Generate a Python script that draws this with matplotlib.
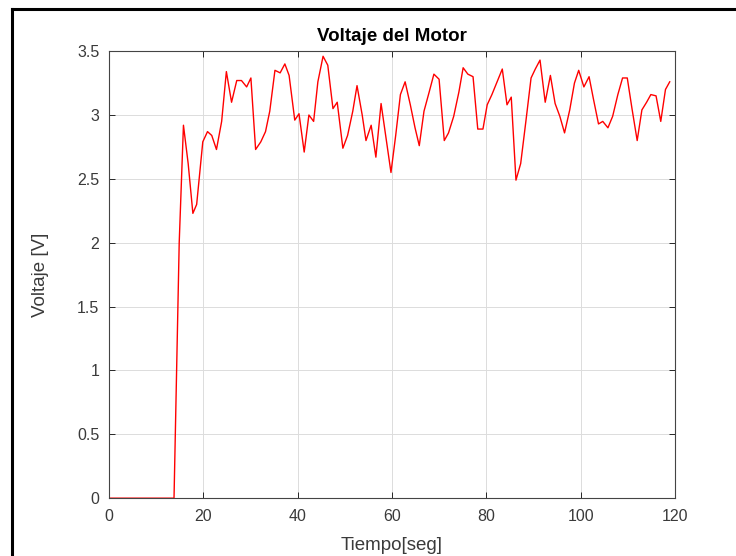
import matplotlib
matplotlib.use('Agg')
import matplotlib.pyplot as plt
from matplotlib.lines import Line2D

plt.rcParams['font.family'] = ['Liberation Sans', 'DejaVu Sans']

# tiempo [s] y voltaje [V]
tiempo = [0, 13.8, 14.9, 15.8, 16.8, 17.8, 18.6, 19.9, 20.9, 21.8,
          22.8, 23.9, 24.9, 26.0, 27.1, 28.1, 29.2, 30.1, 31.1, 32.2,
          33.2, 34.1, 35.2, 36.3, 37.3, 38.2, 39.4, 40.3, 41.4, 42.4,
          43.4, 44.3, 45.4, 46.4, 47.5, 48.4, 49.6, 50.6, 51.7, 52.6,
          53.7, 54.5, 55.6, 56.6, 57.7, 58.75, 59.8, 60.8, 61.8, 62.8,
          63.9, 64.9, 65.8, 66.8, 67.9, 68.9, 70.0, 71.1, 72.0, 73.1,
          74.2, 75.1, 76.1, 77.2, 78.2, 79.3, 80.2, 81.2, 82.3, 83.4,
          84.4, 85.3, 86.3, 87.3, 88.4, 89.5, 90.4, 91.4, 92.5, 93.6,
          94.6, 95.6, 96.6, 97.7, 98.7, 99.6, 100.7, 101.8, 102.7, 103.8,
          104.7, 105.8, 106.8, 107.9, 108.9, 109.9, 110.9, 112.0, 113.0, 114.0,
          114.9, 116.0, 117.0, 118.0, 118.9]
voltaje = [0, 0, 2.0, 2.92, 2.62, 2.23, 2.30, 2.79, 2.87, 2.84,
           2.73, 2.95, 3.34, 3.10, 3.27, 3.27, 3.22, 3.29, 2.73, 2.79,
           2.87, 3.03, 3.35, 3.33, 3.40, 3.31, 2.96, 3.01, 2.71, 3.0,
           2.95, 3.26, 3.46, 3.39, 3.05, 3.10, 2.74, 2.84, 3.03, 3.23,
           3.0, 2.80, 2.92, 2.67, 3.09, 2.82, 2.55, 2.84, 3.16, 3.26,
           3.08, 2.90, 2.76, 3.03, 3.18, 3.32, 3.28, 2.80, 2.86, 2.99,
           3.18, 3.37, 3.32, 3.30, 2.89, 2.89, 3.08, 3.16, 3.26, 3.36,
           3.08, 3.14, 2.49, 2.62, 2.95, 3.29, 3.36, 3.43, 3.10, 3.31,
           3.09, 2.99, 2.86, 3.04, 3.25, 3.35, 3.22, 3.30, 3.13, 2.93,
           2.95, 2.90, 2.99, 3.16, 3.29, 3.29, 3.05, 2.80, 3.04, 3.10,
           3.16, 3.15, 2.95, 3.20, 3.26]

xticks = [0, 20, 40, 60, 80, 100, 120]
yticks = [0, 0.5, 1, 1.5, 2, 2.5, 3, 3.5]
ytick_labels = ['0', '0.5', '1', '1.5', '2', '2.5', '3', '3.5']

fig = plt.figure(figsize=(7.36, 5.56), dpi=100)
ax = fig.add_axes([0.148, 0.104, 0.769, 0.804])

ax.plot(tiempo, voltaje, color='red', lw=1.0)

ax.set_xlim(0, 120)
ax.set_ylim(0, 3.5)
ax.set_xticks(xticks)
ax.set_yticks(yticks)
ax.set_yticklabels(ytick_labels)
ax.grid(True, color='#dcdcdc', lw=0.7)
ax.set_axisbelow(True)
ax.tick_params(direction='in', length=4, width=0.7, color='#262626',
               labelcolor='#3a3a3a', labelsize=11.5, top=True, right=True)
ax.tick_params(axis='x', pad=8)
ax.tick_params(axis='y', pad=7)
for s in ax.spines.values():
    s.set_color('#444444')
    s.set_linewidth(0.8)

ax.set_title('Voltaje del Motor', fontsize=13.5, fontweight='bold', pad=7)
ax.set_xlabel('Tiempo[seg]', fontsize=13.5, color='#3a3a3a', labelpad=9)
ax.set_ylabel('Voltaje [V]', fontsize=13.5, color='#3a3a3a', labelpad=20)

# marco negro de la captura (izquierda y arriba)
fig.add_artist(Line2D([12 / 736, 12 / 736], [0, 1 - 9 / 556], color='black', lw=2.2,
                      transform=fig.transFigure))
fig.add_artist(Line2D([12 / 736, 1], [1 - 9 / 556, 1 - 9 / 556], color='black', lw=2.2,
                      transform=fig.transFigure))

fig.savefig('out.png', dpi=100)
